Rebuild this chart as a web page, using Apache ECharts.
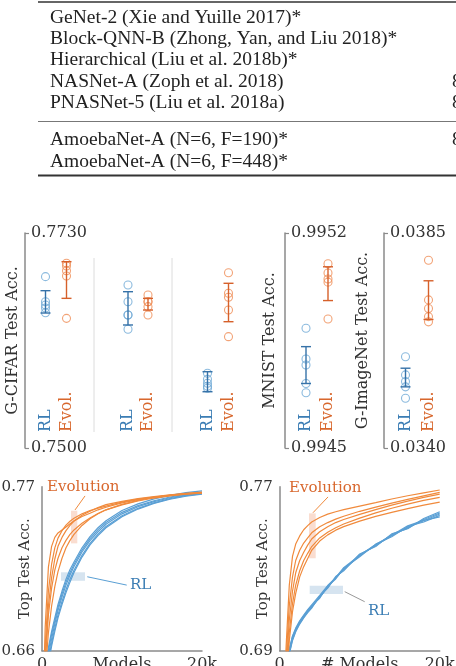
<!DOCTYPE html>
<html><head><meta charset="utf-8">
<script src="https://cdn.jsdelivr.net/npm/echarts@6/dist/echarts.min.js"></script>
<style>html,body{margin:0;padding:0;background:#fff;}#c{width:456px;height:666px;}</style>
</head><body><div id="c"></div>
<script>
// ---------------- DATA ----------------
const tableRowsTop = ["GeNet-2 (Xie and Yuille 2017)*", "Block-QNN-B (Zhong, Yan, and Liu 2018)*", "Hierarchical (Liu et al. 2018b)*", "NASNet-A (Zoph et al. 2018)", "PNASNet-5 (Liu et al. 2018a)"];
const tableRowsBottom = ["AmoebaNet-A (N=6, F=190)*", "AmoebaNet-A (N=6, F=448)*"];
const tableCutValuesTop = ["", "", "", "8", "8"];
const tableCutValuesBottom = ["8", ""];

const methods = ["RL", "Evol."];
// G-CIFAR, three experiments
const cifarRL = [[0.76833, 0.76565, 0.76530, 0.76498, 0.76447], [0.76744, 0.76565, 0.76423, 0.76270, 0.76423], [0.75799, 0.75735, 0.75692, 0.75639, 0.75660]];
const cifarEvo = [[0.76976, 0.76947, 0.76897, 0.76840, 0.76387], [0.76637, 0.76565, 0.76512, 0.76423, 0.76565], [0.76875, 0.76655, 0.76612, 0.76476, 0.76191]];
const cifarRLErr = [[0.76444, 0.76683], [0.76316, 0.76672], [0.75602, 0.75816]];
const cifarEvoErr = [[0.76601, 0.76993], [0.76476, 0.76601], [0.76351, 0.76762]];
const cifarRange = [0.7500, 0.7730];
const mnistRL = [0.99489, 0.99479, 0.99477, 0.99471, 0.99468];
const mnistEvo = [0.99510, 0.99507, 0.99505, 0.99504, 0.99492];
const mnistRLErr = [0.99471, 0.99483];
const mnistEvoErr = [0.99498, 0.99509];
const mnistRange = [0.9945, 0.9952];
const imgRL = [0.03591, 0.03553, 0.03539, 0.03528, 0.03504];
const imgEvo = [0.03793, 0.03710, 0.03692, 0.03675, 0.03664];
const imgRLErr = [0.03528, 0.03567];
const imgEvoErr = [0.03669, 0.03750];
const imgRange = [0.0340, 0.0385];

// Top test accuracy vs number of models
const models = [0, 400, 800, 1200, 1600, 2000, 2500, 3000, 3500, 4000, 5000, 6000, 7000, 8000, 10000, 12000, 14000, 16000, 18000, 20000];
const leftEvo = [
  [0.600, 0.676, 0.716, 0.730, 0.736, 0.739, 0.741, 0.743, 0.7452, 0.7470, 0.7500, 0.7522, 0.7545, 0.7562, 0.7591, 0.7613, 0.7628, 0.7641, 0.7651, 0.7658],
  [0.598, 0.663, 0.700, 0.718, 0.729, 0.7355, 0.7405, 0.7442, 0.7468, 0.7488, 0.7518, 0.7540, 0.7556, 0.7570, 0.7597, 0.7617, 0.7631, 0.7643, 0.7653, 0.7661],
  [0.594, 0.656, 0.690, 0.709, 0.7215, 0.730, 0.736, 0.7405, 0.7440, 0.7470, 0.7508, 0.7535, 0.7560, 0.7580, 0.7602, 0.7620, 0.7634, 0.7646, 0.7655, 0.7663],
  [0.590, 0.651, 0.684, 0.702, 0.714, 0.722, 0.729, 0.734, 0.738, 0.741, 0.7455, 0.749, 0.752, 0.7545, 0.7578, 0.7604, 0.7624, 0.7639, 0.7650, 0.7656],
  [0.585, 0.644, 0.672, 0.690, 0.703, 0.713, 0.722, 0.729, 0.734, 0.738, 0.744, 0.7485, 0.7518, 0.7545, 0.7582, 0.7608, 0.7628, 0.7642, 0.7652, 0.7660]
];
const leftRL = [
  [0.620, 0.646, 0.660, 0.671, 0.680, 0.689, 0.698, 0.706, 0.7125, 0.718, 0.7275, 0.7352, 0.7412, 0.7460, 0.7528, 0.7573, 0.7606, 0.7631, 0.7648, 0.7662],
  [0.618, 0.643, 0.657, 0.668, 0.678, 0.687, 0.696, 0.704, 0.7108, 0.7165, 0.7262, 0.7338, 0.7398, 0.7448, 0.7518, 0.7566, 0.7600, 0.7626, 0.7644, 0.7657],
  [0.615, 0.640, 0.654, 0.665, 0.675, 0.684, 0.693, 0.701, 0.708, 0.714, 0.7240, 0.7320, 0.7382, 0.7433, 0.7505, 0.7555, 0.7592, 0.7620, 0.7640, 0.7654],
  [0.612, 0.637, 0.651, 0.663, 0.673, 0.682, 0.691, 0.699, 0.706, 0.7125, 0.7228, 0.7310, 0.7372, 0.7425, 0.7498, 0.7550, 0.7588, 0.7616, 0.7636, 0.7650],
  [0.620, 0.647, 0.662, 0.673, 0.682, 0.691, 0.700, 0.708, 0.7145, 0.7195, 0.7290, 0.7365, 0.7425, 0.7472, 0.7540, 0.7585, 0.7618, 0.7642, 0.7660, 0.7672]
];
const rightEvo = [
  [0.600, 0.655, 0.692, 0.722, 0.736, 0.742, 0.746, 0.749, 0.751, 0.7528, 0.7550, 0.7566, 0.7578, 0.7588, 0.7605, 0.7622, 0.7640, 0.7656, 0.7670, 0.7684],
  [0.600, 0.650, 0.686, 0.712, 0.726, 0.734, 0.739, 0.7425, 0.745, 0.7475, 0.7505, 0.7525, 0.7542, 0.7556, 0.7580, 0.7600, 0.7620, 0.7638, 0.7655, 0.7672],
  [0.595, 0.646, 0.681, 0.705, 0.719, 0.728, 0.734, 0.738, 0.7415, 0.7445, 0.7480, 0.7505, 0.7525, 0.7540, 0.7565, 0.7588, 0.7610, 0.7630, 0.7648, 0.7664],
  [0.590, 0.642, 0.676, 0.699, 0.713, 0.722, 0.729, 0.734, 0.7375, 0.7408, 0.7450, 0.7478, 0.7500, 0.7518, 0.7547, 0.7572, 0.7595, 0.7615, 0.7633, 0.7648],
  [0.585, 0.638, 0.672, 0.695, 0.709, 0.718, 0.726, 0.731, 0.735, 0.7390, 0.7435, 0.7465, 0.7488, 0.7505, 0.7532, 0.7555, 0.7575, 0.7593, 0.7610, 0.7625]
];
const rightRL = [
  [0.660, 0.672, 0.682, 0.6895, 0.6962, 0.7001, 0.7038, 0.7066, 0.7092, 0.7115, 0.7160, 0.7212, 0.7254, 0.7298, 0.7363, 0.7415, 0.7461, 0.7502, 0.7534, 0.7567],
  [0.659, 0.671, 0.681, 0.6888, 0.6955, 0.6996, 0.7034, 0.7062, 0.7090, 0.7112, 0.7163, 0.7208, 0.7258, 0.7294, 0.7368, 0.7412, 0.7466, 0.7498, 0.7540, 0.7572],
  [0.661, 0.673, 0.683, 0.6902, 0.6968, 0.7006, 0.7042, 0.7070, 0.7096, 0.7120, 0.7156, 0.7216, 0.7250, 0.7302, 0.7358, 0.7420, 0.7456, 0.7506, 0.7528, 0.7560],
  [0.658, 0.670, 0.680, 0.6882, 0.6950, 0.6992, 0.7030, 0.7060, 0.7086, 0.7108, 0.7166, 0.7205, 0.7262, 0.7290, 0.7372, 0.7408, 0.7470, 0.7495, 0.7545, 0.7578],
  [0.662, 0.674, 0.684, 0.6908, 0.6972, 0.7010, 0.7046, 0.7074, 0.7100, 0.7124, 0.7170, 0.7218, 0.7256, 0.7305, 0.7366, 0.7418, 0.7463, 0.7509, 0.7536, 0.7553]
];
const leftRange = [0.66, 0.77];
const rightRange = [0.69, 0.77];
const modelRange = [0, 20000];

// annotations (data coordinates)
const leftEvoBox = [[3625, 0.7320], [4412, 0.7539]];
const leftEvoLeader = [[5375, 0.7638], [4125, 0.7544]];
const leftEvoLabel = [625, 0.7700];
const leftRLBox = [[2375, 0.7069], [5375, 0.7126]];
const leftRLLeader = [[5660, 0.7096], [10590, 0.7040]];
const leftRLLabel = [11000, 0.7040];
const rightEvoBox = [[3660, 0.7351], [4500, 0.7570]];
const rightEvoLeader = [[6040, 0.7650], [4160, 0.7573]];
const rightEvoLabel = [1160, 0.7692];
const rightRLBox = [[3750, 0.7177], [7910, 0.7217]];
const rightRLLeader = [[8125, 0.7188], [10625, 0.7139]];
const rightRLLabel = [11040, 0.7095];

// ---------------- STYLE ----------------
const FONT = 'DejaVu Serif';
const C = {
  rlText: '#3b7db4', evoText: '#d8672d',
  rlPt: '#6ea9d6', evoPt: '#ef8c55',
  rlBar: '#3672a8', evoBar: '#d6602a',
  rlLine: '#5a9fd4', evoLine: '#f08a3c',
  axis: '#8a8a8a', text: '#333'
};

const chart = echarts.init(document.getElementById('c'), null, {renderer: 'canvas'});

function errRender(color) {
  return function (params, api) {
    const x = api.value(0);
    const lo = api.coord([x, api.value(1)]);
    const hi = api.coord([x, api.value(2)]);
    const w = 5;
    const style = {stroke: color, lineWidth: 1.4};
    return {type: 'group', children: [
      {type: 'line', shape: {x1: lo[0], y1: lo[1], x2: hi[0], y2: hi[1]}, style: style},
      {type: 'line', shape: {x1: lo[0] - w, y1: lo[1], x2: lo[0] + w, y2: lo[1]}, style: style},
      {type: 'line', shape: {x1: hi[0] - w, y1: hi[1], x2: hi[0] + w, y2: hi[1]}, style: style}
    ]};
  };
}

const series = [];
function addGroup(ax, rl, evo, rlErr, evoErr) {
  series.push({type: 'scatter', xAxisIndex: ax, yAxisIndex: ax, symbol: 'circle', symbolSize: 8,
    itemStyle: {color: 'rgba(0,0,0,0)', borderColor: C.rlPt, borderWidth: 1.1}, data: rl.map(v => ['RL', v]), z: 3});
  series.push({type: 'scatter', xAxisIndex: ax, yAxisIndex: ax, symbol: 'circle', symbolSize: 8,
    itemStyle: {color: 'rgba(0,0,0,0)', borderColor: C.evoPt, borderWidth: 1.1}, data: evo.map(v => ['Evol.', v]), z: 3});
  series.push({type: 'custom', xAxisIndex: ax, yAxisIndex: ax, renderItem: errRender(C.rlBar),
    encode: {x: 0, y: [1, 2]}, data: [['RL', rlErr[0], rlErr[1]]], z: 4});
  series.push({type: 'custom', xAxisIndex: ax, yAxisIndex: ax, renderItem: errRender(C.evoBar),
    encode: {x: 0, y: [1, 2]}, data: [['Evol.', evoErr[0], evoErr[1]]], z: 4});
}
for (let k = 0; k < 3; k++) addGroup(k, cifarRL[k], cifarEvo[k], cifarRLErr[k], cifarEvoErr[k]);
addGroup(3, mnistRL, mnistEvo, mnistRLErr, mnistEvoErr);
addGroup(4, imgRL, imgEvo, imgRLErr, imgEvoErr);

function toXY(arr) { return models.map((m, i) => [m, arr[i]]); }
function addLines(ax, rlSet, evoSet, ann) {
  rlSet.forEach((arr, i) => {
    const s = {type: 'line', xAxisIndex: ax, yAxisIndex: ax, data: toXY(arr), symbol: 'none',
      lineStyle: {color: C.rlLine, width: 1.2}, clip: true, z: 2, silent: true};
    if (i === 0) {
      s.markArea = {silent: true, itemStyle: {color: 'rgba(120,165,205,0.30)'},
        data: [[{coord: ann.rlBox[0]}, {coord: ann.rlBox[1]}]]};
      s.markLine = {silent: true, symbol: 'none', label: {show: false},
        lineStyle: {color: ann.rlLeaderColor, width: 1, type: 'solid'},
        data: [[{coord: ann.rlLeader[0]}, {coord: ann.rlLeader[1]}]]};
      s.markPoint = {silent: true, symbol: 'circle', symbolSize: 0,
        label: {show: true, position: 'right', distance: 0, formatter: 'RL', color: C.rlText, fontFamily: FONT, fontSize: 15},
        data: [{coord: ann.rlLabel}]};
    }
    series.push(s);
  });
  evoSet.forEach((arr, i) => {
    const s = {type: 'line', xAxisIndex: ax, yAxisIndex: ax, data: toXY(arr), symbol: 'none',
      lineStyle: {color: C.evoLine, width: 1.2}, clip: true, z: 2, silent: true};
    if (i === 0) {
      s.markArea = {silent: true, itemStyle: {color: 'rgba(240,150,110,0.32)'},
        data: [[{coord: ann.evoBox[0]}, {coord: ann.evoBox[1]}]]};
      s.markLine = {silent: true, symbol: 'none', label: {show: false},
        lineStyle: {color: C.evoLine, width: 1, type: 'solid'},
        data: [[{coord: ann.evoLeader[0]}, {coord: ann.evoLeader[1]}]]};
      s.markPoint = {silent: true, symbol: 'circle', symbolSize: 0,
        label: {show: true, position: 'right', distance: 0, formatter: 'Evolution', color: C.evoText, fontFamily: FONT, fontSize: 15},
        data: [{coord: ann.evoLabel}]};
    }
    series.push(s);
  });
}
addLines(5, leftRL, leftEvo, {rlBox: leftRLBox, rlLeader: leftRLLeader, rlLabel: leftRLLabel, rlLeaderColor: C.rlLine,
  evoBox: leftEvoBox, evoLeader: leftEvoLeader, evoLabel: leftEvoLabel});
addLines(6, rightRL, rightEvo, {rlBox: rightRLBox, rlLeader: rightRLLeader, rlLabel: rightRLLabel, rlLeaderColor: '#999',
  evoBox: rightEvoBox, evoLeader: rightEvoLeader, evoLabel: rightEvoLabel});

// ---------------- AXES ----------------
const scatterGrids = [
  {left: 35, top: 233, width: 42, height: 215},
  {left: 118, top: 233, width: 40, height: 215},
  {left: 197, top: 233, width: 42, height: 215},
  {left: 295, top: 233, width: 44, height: 215},
  {left: 394, top: 233, width: 46, height: 215}
];
const lineGrids = [
  {left: 42, top: 486.7, width: 160, height: 164},
  {left: 279.7, top: 486.7, width: 160, height: 164}
];
const grids = scatterGrids.concat(lineGrids).map(g => Object.assign({outerBoundsMode: 'none', containLabel: false}, g));

const xAxes = [];
const yAxes = [];
for (let i = 0; i < 5; i++) {
  xAxes.push({gridIndex: i, type: 'category', data: methods, boundaryGap: true,
    axisLine: {show: false}, axisTick: {show: false}, splitLine: {show: false},
    axisLabel: {inside: true, rotate: 90, margin: 16, interval: 0, hideOverlap: false, fontFamily: FONT, fontSize: 16,
      color: (v) => v === 'RL' ? C.rlText : C.evoText}});
}
function scatterY(i, range, name, gap, show) {
  return {gridIndex: i, type: 'value', min: range[0], max: range[1], show: show, offset: 10,
    splitLine: {show: false},
    axisLine: {show: true, lineStyle: {color: C.axis, width: 1.5}},
    axisTick: {show: true, inside: true, length: 4, customValues: range, lineStyle: {color: C.axis, width: 1.2}},
    axisLabel: {inside: true, margin: 6, customValues: range, formatter: v => v.toFixed(4),
      fontFamily: FONT, fontSize: 16, color: C.text},
    name: name, nameLocation: 'middle', nameGap: gap, nameMoveOverlap: false,
    nameTextStyle: {fontFamily: FONT, fontSize: 16, color: C.text}};
}
yAxes.push(scatterY(0, cifarRange, 'G-CIFAR Test Acc.', 4, true));
yAxes.push(scatterY(1, cifarRange, '', 0, false));
yAxes.push(scatterY(2, cifarRange, '', 0, false));
yAxes.push(scatterY(3, mnistRange, 'MNIST Test Acc.', 7, true));
yAxes.push(scatterY(4, imgRange, 'G-ImageNet Test Acc.', 13, true));

function lineX(i, name) {
  return {gridIndex: i, type: 'value', min: modelRange[0], max: modelRange[1],
    splitLine: {show: false}, axisTick: {show: false},
    axisLine: {show: true, lineStyle: {color: C.axis, width: 1.5}},
    axisLabel: {customValues: modelRange, margin: 6, formatter: v => v === 0 ? '0' : (v / 1000) + 'k',
      fontFamily: FONT, fontSize: 16, color: C.text},
    name: name, nameLocation: 'middle', nameGap: 6, nameMoveOverlap: false,
    nameTextStyle: {fontFamily: FONT, fontSize: 16, color: C.text}};
}
function lineY(i, range) {
  return {gridIndex: i, type: 'value', min: range[0], max: range[1],
    splitLine: {show: false}, axisTick: {show: false},
    axisLine: {show: true, lineStyle: {color: C.axis, width: 1.5}},
    axisLabel: {customValues: range, margin: 7, formatter: v => v.toFixed(2),
      fontFamily: FONT, fontSize: 15, color: C.text},
    name: 'Top Test Acc.', nameLocation: 'middle', nameGap: 9, nameMoveOverlap: false,
    nameTextStyle: {fontFamily: FONT, fontSize: 15, color: C.text}};
}
xAxes.push(lineX(5, 'Models'));
xAxes.push(lineX(6, '# Models'));
yAxes.push(lineY(5, leftRange));
yAxes.push(lineY(6, rightRange));

// ---------------- TABLE + DECOR ----------------
const graphic = [];
const TFONT = 'Liberation Serif';
graphic.push({type: 'line', shape: {x1: 38, y1: 2, x2: 456, y2: 2}, style: {stroke: '#333', lineWidth: 1.5}});
graphic.push({type: 'line', shape: {x1: 38, y1: 121.5, x2: 456, y2: 121.5}, style: {stroke: '#777', lineWidth: 1}});
graphic.push({type: 'line', shape: {x1: 38, y1: 175.5, x2: 456, y2: 175.5}, style: {stroke: '#333', lineWidth: 1.8}});
tableRowsTop.forEach((t, i) => {
  graphic.push({type: 'text', x: 50, y: 17.5 + i * 21.4, style: {text: t, font: '19.5px "' + TFONT + '"', fill: '#222', verticalAlign: 'middle'}});
  if (tableCutValuesTop[i]) graphic.push({type: 'text', x: 452, y: 17.5 + i * 21.4, style: {text: tableCutValuesTop[i], font: '19.5px "' + TFONT + '"', fill: '#222', verticalAlign: 'middle'}});
});
tableRowsBottom.forEach((t, i) => {
  graphic.push({type: 'text', x: 50, y: 140 + i * 21.4, style: {text: t, font: '19.5px "' + TFONT + '"', fill: '#222', verticalAlign: 'middle'}});
  if (tableCutValuesBottom[i]) graphic.push({type: 'text', x: 452, y: 140 + i * 21.4, style: {text: tableCutValuesBottom[i], font: '19.5px "' + TFONT + '"', fill: '#222', verticalAlign: 'middle'}});
});
// separators between G-CIFAR experiments
[94, 172].forEach(x => graphic.push({type: 'line', shape: {x1: x, y1: 258, x2: x, y2: 432}, style: {stroke: '#dcdcdc', lineWidth: 1}}));

chart.setOption({
  animation: false,
  backgroundColor: '#fff',
  grid: grids,
  xAxis: xAxes,
  yAxis: yAxes,
  series: series,
  graphic: graphic
});
</script></body></html>
